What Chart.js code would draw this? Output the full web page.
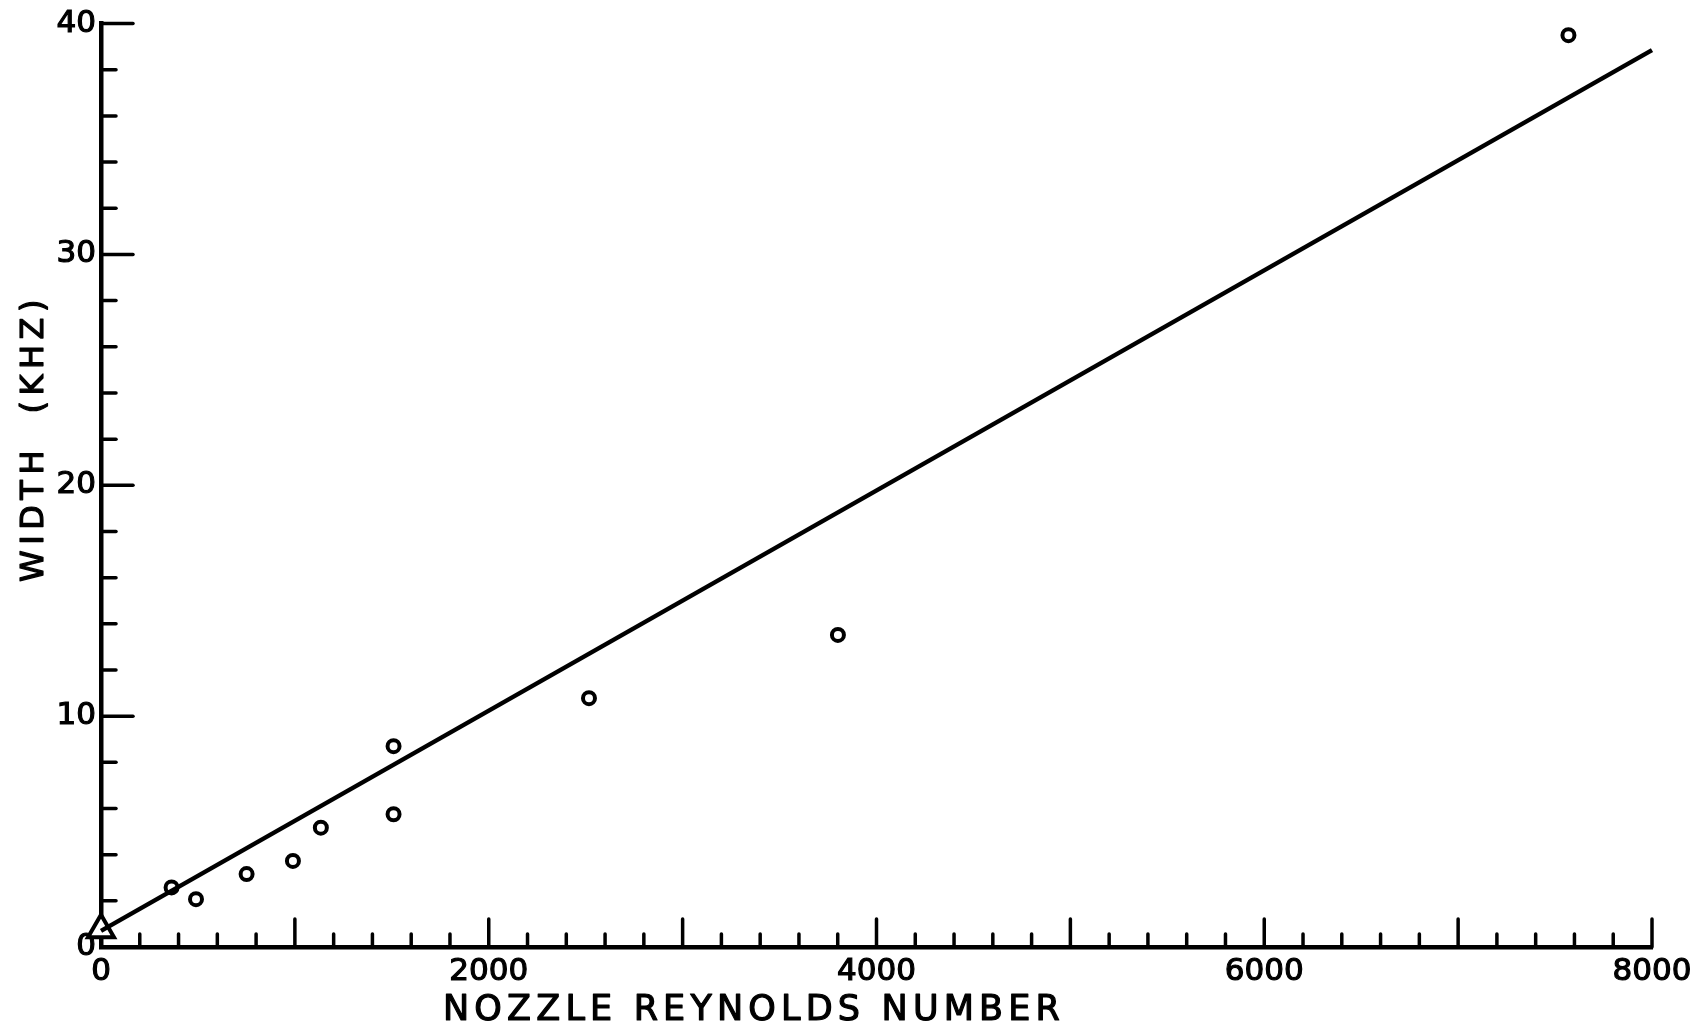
<!DOCTYPE html>
<html>
<head>
<meta charset="utf-8">
<script src="https://cdn.jsdelivr.net/npm/chart.js@4/dist/chart.umd.min.js"></script>
<style>
    body { margin: 0; background: #fff; }
    #wrap { width: 1705px; height: 1029px; }
</style>
</head>
<body>
<div id="wrap"><canvas id="grafico"></canvas></div>
<script>
// Datos
const reynolds = [364, 490, 751, 990, 1134, 1509, 1509, 2517, 3801, 7569];
const anchoKHz = [2.58, 2.07, 3.16, 3.73, 5.17, 8.70, 5.75, 10.78, 13.52, 39.5];
const trianguloRe = [0];
const trianguloAncho = [0.75];
const ajusteRe = [0, 8000];
const ajusteAncho = [0.7, 38.85];

const ticksX = [0, 2000, 4000, 6000, 8000];
const ticksY = [0, 10, 20, 30, 40];

const puntos = (xs, ys) => xs.map((x, i) => ({ x: x, y: ys[i] }));

const fuente = "'DejaVu Sans'";
Chart.defaults.font.family = fuente;
Chart.defaults.color = "#000";

// Escribe un texto (con trazo para engrosarlo) ajustando el espaciado al ancho dado
function textoAncho(ctx, texto, x, y, ancho) {
    ctx.letterSpacing = "0px";
    const w = ctx.measureText(texto).width;
    ctx.letterSpacing = ((ancho - w) / texto.length) + "px";
    ctx.fillText(texto, x, y);
    ctx.strokeText(texto, x, y);
}

// Marcas de los ejes hacia dentro y titulos de los ejes
const marcasEjes = {
    id: "marcasEjes",
    afterDraw(chart) {
        const ctx = chart.ctx;
        const x = chart.scales.x;
        const y = chart.scales.y;
        const area = chart.chartArea;
        ctx.save();
        ctx.strokeStyle = "#000";
        ctx.lineWidth = 3.5;
        ctx.lineCap = "round";

        for (let v = 200; v <= 8000; v += 200) {
            const px = x.getPixelForValue(v);
            const largo = v % 1000 === 0 ? 28 : 13;
            ctx.beginPath();
            ctx.moveTo(px, area.bottom);
            ctx.lineTo(px, area.bottom - largo);
            ctx.stroke();
        }
        for (let v = 2; v <= 40; v += 2) {
            const py = y.getPixelForValue(v);
            const largo = v % 10 === 0 ? 32 : 15;
            ctx.beginPath();
            ctx.moveTo(area.left, py);
            ctx.lineTo(area.left + largo, py);
            ctx.stroke();
        }

        ctx.fillStyle = "#000";
        ctx.lineWidth = 1.2;
        ctx.lineJoin = "round";
        ctx.textAlign = "left";
        ctx.textBaseline = "alphabetic";
        ctx.font = "35px " + fuente;
        textoAncho(ctx, "NOZZLE REYNOLDS NUMBER", 443, 1020, 622);

        ctx.translate(43, 582);
        ctx.rotate(-Math.PI / 2);
        ctx.font = "32px " + fuente;
        textoAncho(ctx, "WIDTH  (KHZ)", 0, 0, 288);
        ctx.restore();
    }
};

new Chart(document.getElementById("grafico"), {
    type: "scatter",
    data: {
        datasets: [
            {
                label: "ajuste",
                type: "line",
                data: puntos(ajusteRe, ajusteAncho),
                borderColor: "#000",
                borderWidth: 4.5,
                pointRadius: 0,
                fill: false,
                clip: false
            },
            {
                label: "medidas",
                data: puntos(reynolds, anchoKHz),
                pointStyle: "circle",
                pointRadius: 6,
                borderColor: "#000",
                backgroundColor: "rgba(255,255,255,0)",
                borderWidth: 4,
                pointBorderWidth: 4,
                clip: false
            },
            {
                label: "triangulo",
                data: puntos(trianguloRe, trianguloAncho),
                pointStyle: "triangle",
                pointRadius: 15,
                borderColor: "#000",
                backgroundColor: "#fff",
                borderWidth: 4,
                pointBorderWidth: 4,
                clip: false
            }
        ]
    },
    options: {
        responsive: true,
        maintainAspectRatio: false,
        animation: false,
        layout: { padding: { top: 14, right: 53, left: 0, bottom: 0 } },
        plugins: {
            legend: { display: false },
            tooltip: { enabled: false }
        },
        scales: {
            x: {
                type: "linear",
                min: 0,
                max: 8000,
                afterFit(scale) { scale.height = 82; },
                afterBuildTicks(scale) { scale.ticks = ticksX.map(v => ({ value: v })); },
                grid: { display: false, drawTicks: false },
                border: { display: true, color: "#000", width: 4.5 },
                ticks: {
                    padding: 6,
                    font: { size: 31 },
                    textStrokeColor: "#000",
                    textStrokeWidth: 1.2,
                    maxRotation: 0,
                    callback: v => String(v)
                }
            },
            y: {
                type: "linear",
                min: 0,
                max: 40,
                afterFit(scale) { scale.width = 101; },
                afterBuildTicks(scale) { scale.ticks = ticksY.map(v => ({ value: v })); },
                grid: { display: false, drawTicks: false },
                border: { display: true, color: "#000", width: 4.5 },
                ticks: {
                    padding: 5,
                    font: { size: 31 },
                    textStrokeColor: "#000",
                    textStrokeWidth: 1.2,
                    callback: v => String(v)
                }
            }
        }
    },
    plugins: [marcasEjes]
});
</script>
</body>
</html>
